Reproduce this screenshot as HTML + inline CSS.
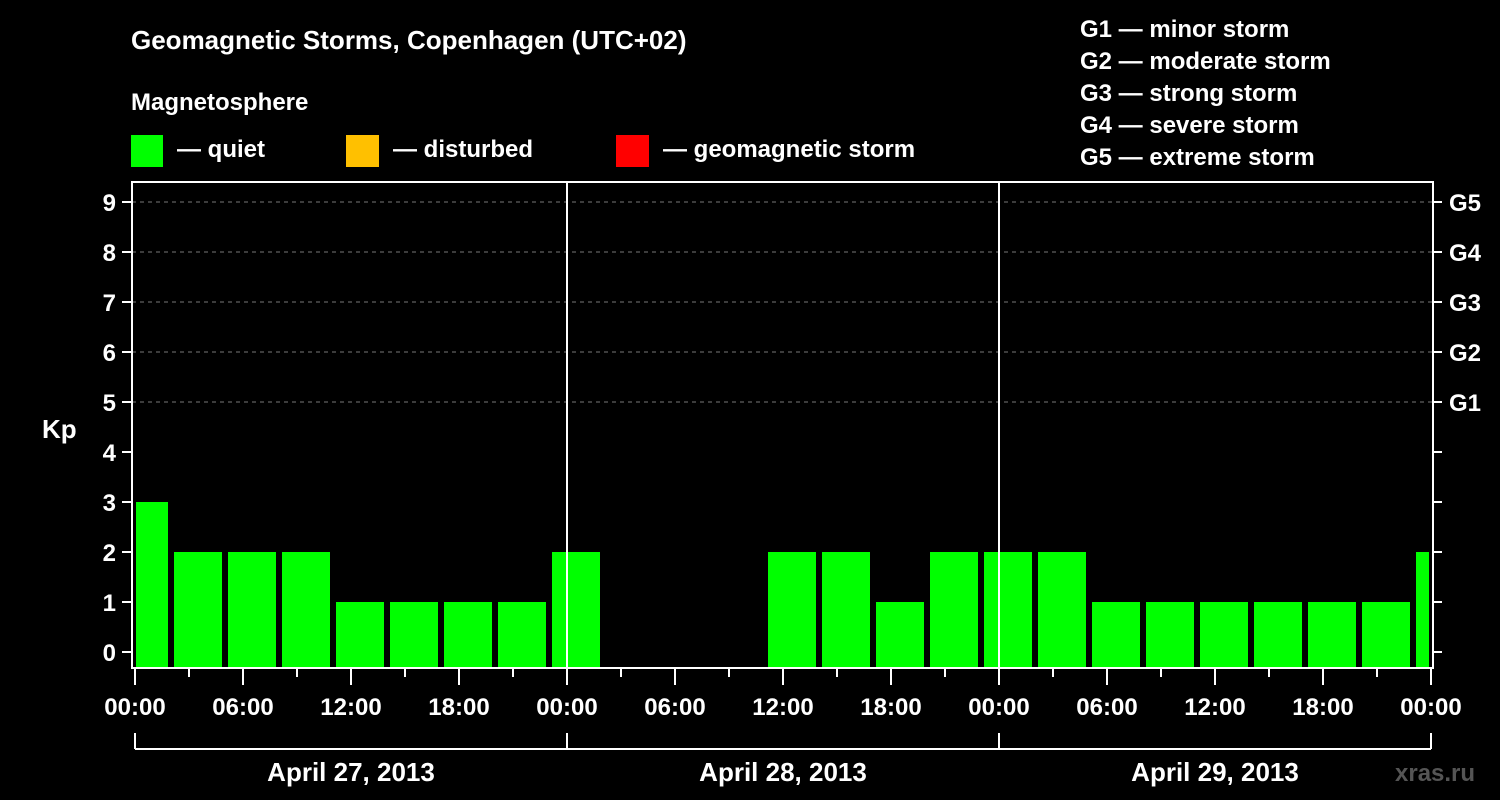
<!DOCTYPE html>
<html><head><meta charset="utf-8"><style>
body{margin:0;background:#000;width:1500px;height:800px;overflow:hidden}
svg{display:block;font-family:"Liberation Sans",Arial,sans-serif;font-weight:bold}
</style></head><body>
<svg id="c" width="1500" height="800" viewBox="0 0 1500 800">
<text x="131" y="49" fill="#fff" font-size="26">Geomagnetic Storms, Copenhagen (UTC+02)</text>
<text x="131" y="110" fill="#fff" font-size="24">Magnetosphere</text>
<g><rect x="131" y="135" width="32" height="32" fill="#00ff00"/><text x="177" y="157" fill="#fff" font-size="24">— quiet</text></g>
<g><rect x="346" y="135" width="33" height="32" fill="#ffc000"/><text x="393" y="157" fill="#fff" font-size="24">— disturbed</text></g>
<g><rect x="616" y="135" width="33" height="32" fill="#ff0000"/><text x="663" y="157" fill="#fff" font-size="24">— geomagnetic storm</text></g>
<g fill="#fff" font-size="24">
<text x="1080" y="37">G1 — minor storm</text>
<text x="1080" y="69">G2 — moderate storm</text>
<text x="1080" y="101">G3 — strong storm</text>
<text x="1080" y="133">G4 — severe storm</text>
<text x="1080" y="165">G5 — extreme storm</text>
</g>
<text x="42" y="438" fill="#fff" font-size="26">Kp</text>
<text x="1395" y="781" fill="#555" font-size="24">xras.ru</text>
<g id="plot"></g>
</svg>
<script>
const kpValues=[3,2,2,2,1,1,1,1,2,0,0,0,2,2,1,2,2,2,1,1,1,1,1,1,2];
const slotStartHours=[-1,2,5,8,11,14,17,20,23,26,29,32,35,38,41,44,47,50,53,56,59,62,65,68,71];
const yTicks=[0,1,2,3,4,5,6,7,8,9];
const gLabels=["G1","G2","G3","G4","G5"];
const gLevels=[5,6,7,8,9];
const xTickLabels=["00:00","06:00","12:00","18:00","00:00","06:00","12:00","18:00","00:00","06:00","12:00","18:00","00:00"];
const dayLabels=["April 27, 2013","April 28, 2013","April 29, 2013"];
const NS="http://www.w3.org/2000/svg",g=document.getElementById('plot');
const L=132,R=1433,T=182,B=668,X0=135,PX_H=18;
const xs=h=>X0+PX_H*h, ys=v=>652-50*v;
function mk(t,a,p){const e=document.createElementNS(NS,t);for(const k in a)e.setAttribute(k,a[k]);(p||g).appendChild(e);return e;}
// grid
gLevels.forEach(v=>{const e=mk('line',{x1:L,x2:R,y1:ys(v),y2:ys(v),stroke:'#777','stroke-dasharray':'4,4'});

});
// bars
kpValues.forEach((v,i)=>{if(v<=0)return;const h=slotStartHours[i];
let x1=Math.max(xs(h)+3,L+4),x2=Math.min(xs(h+3)-3,R-4);
const top=ys(v),e=mk('rect',{x:x1,y:top,width:x2-x1,height:B-top,fill:v>=5?'#ff0000':(v>=4?'#ffc000':'#00ff00')});

});
// frame
const f=mk('rect',{x:L,y:T,width:R-L,height:B-T,fill:'none',stroke:'#fff','stroke-width':2});


[1,2].forEach(d=>{const e=mk('line',{x1:xs(24*d),x2:xs(24*d),y1:T,y2:B,stroke:'#fff','stroke-width':2});

});
// y ticks
yTicks.forEach(v=>{mk('line',{x1:122,x2:L,y1:ys(v),y2:ys(v),stroke:'#fff','stroke-width':2});
mk('line',{x1:R,x2:1442,y1:ys(v),y2:ys(v),stroke:'#fff','stroke-width':2});
const t=mk('text',{x:116,y:ys(v)+9,fill:'#fff','font-size':24,'text-anchor':'end'});t.textContent=v;

});
gLabels.forEach((s,i)=>{const t=mk('text',{x:1449,y:ys(gLevels[i])+9,fill:'#fff','font-size':24});t.textContent=s;

});
// x ticks
for(let h=0;h<=72;h+=3){const maj=h%6===0;mk('line',{x1:xs(h),x2:xs(h),y1:B,y2:maj?685:677,stroke:'#fff','stroke-width':2});}
xTickLabels.forEach((s,i)=>{const t=mk('text',{x:xs(6*i),y:715,fill:'#fff','font-size':24,'text-anchor':'middle'});t.textContent=s;

});
// day bracket
mk('line',{x1:xs(0),x2:xs(72),y1:749,y2:749,stroke:'#fff','stroke-width':2});
for(let d=0;d<=3;d++)mk('line',{x1:xs(24*d),x2:xs(24*d),y1:733,y2:749,stroke:'#fff','stroke-width':2});
dayLabels.forEach((s,i)=>{const t=mk('text',{x:xs(24*i+12),y:781,fill:'#fff','font-size':26,'text-anchor':'middle'});t.textContent=s;

});
</script>
</body></html>
